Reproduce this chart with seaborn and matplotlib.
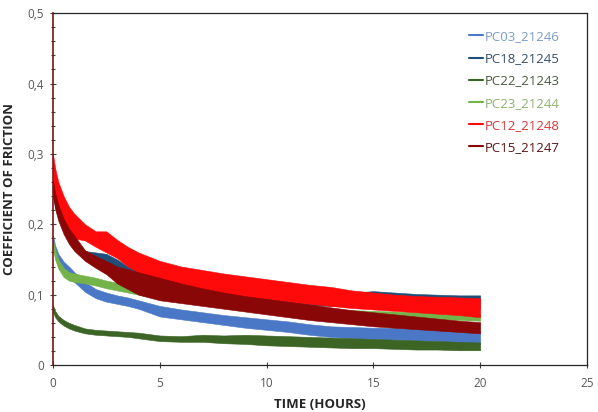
import pandas as pd
import seaborn as sns
import matplotlib.pyplot as plt
from matplotlib.lines import Line2D
from matplotlib.ticker import MultipleLocator

sns.set_theme(style='ticks')
plt.rcParams['font.family'] = ['Open Sans', 'DejaVu Sans']

# Time axis (hours) shared by every sample
hours = [0, 0.1, 0.25, 0.5, 0.75, 1, 1.5, 2, 2.5, 3, 3.5, 4, 5, 6, 7, 8, 9,
         10, 11, 12, 13, 14, 15, 16, 17, 18, 19, 20]

samples = ['PC03_21246', 'PC18_21245', 'PC22_21243', 'PC23_21244', 'PC12_21248', 'PC15_21247']
colors = ['#4a78c6', '#1f4e79', '#3b6425', '#74b24a', '#ff0a0a', '#8a0707']
label_colors = ['#7d9dcc', '#34506c', '#4b5a3e', '#8db36e', '#d7383c', '#5c1414']

# Upper / lower edge of the noisy band
pc03_hi = [0.185, 0.17, 0.158, 0.147, 0.14, 0.132, 0.118, 0.108, 0.103, 0.099, 0.096, 0.092, 0.084, 0.079,
           0.075, 0.071, 0.068, 0.065, 0.062, 0.058, 0.055, 0.054, 0.053, 0.053, 0.052, 0.051, 0.05, 0.048]
pc03_lo = [0.17, 0.155, 0.143, 0.133, 0.126, 0.118, 0.104, 0.095, 0.09, 0.087, 0.084, 0.08, 0.069, 0.065,
           0.061, 0.057, 0.053, 0.05, 0.047, 0.043, 0.04, 0.038, 0.037, 0.036, 0.035, 0.034, 0.032, 0.03]

pc18_hi = [0.255, 0.24, 0.222, 0.203, 0.19, 0.18, 0.162, 0.16, 0.158, 0.15, 0.14, 0.134, 0.126, 0.12,
           0.116, 0.112, 0.109, 0.107, 0.105, 0.104, 0.103, 0.103, 0.105, 0.103, 0.101, 0.1, 0.099, 0.099]
pc18_lo = [0.24, 0.225, 0.208, 0.19, 0.176, 0.166, 0.15, 0.142, 0.138, 0.13, 0.122, 0.116, 0.108, 0.102,
           0.098, 0.094, 0.091, 0.089, 0.087, 0.085, 0.084, 0.083, 0.083, 0.082, 0.082, 0.081, 0.081, 0.08]

pc22_hi = [0.085, 0.077, 0.07, 0.064, 0.06, 0.057, 0.052, 0.05, 0.049, 0.048, 0.047, 0.046, 0.042, 0.041,
           0.043, 0.042, 0.043, 0.042, 0.041, 0.04, 0.039, 0.038, 0.037, 0.036, 0.035, 0.034, 0.033, 0.032]
pc22_lo = [0.075, 0.068, 0.062, 0.056, 0.052, 0.049, 0.045, 0.043, 0.042, 0.041, 0.04, 0.038, 0.034, 0.033,
           0.033, 0.031, 0.03, 0.028, 0.027, 0.026, 0.025, 0.024, 0.024, 0.023, 0.022, 0.022, 0.021, 0.021]

pc23_hi = [0.178, 0.165, 0.15, 0.138, 0.132, 0.13, 0.127, 0.124, 0.12, 0.117, 0.113, 0.11, 0.104, 0.099,
           0.095, 0.091, 0.088, 0.086, 0.084, 0.082, 0.08, 0.078, 0.077, 0.076, 0.075, 0.074, 0.073, 0.072]
pc23_lo = [0.165, 0.15, 0.137, 0.125, 0.12, 0.118, 0.116, 0.113, 0.109, 0.106, 0.103, 0.1, 0.094, 0.09,
           0.086, 0.082, 0.079, 0.077, 0.075, 0.073, 0.071, 0.069, 0.068, 0.067, 0.066, 0.065, 0.064, 0.063]

pc12_hi = [0.30, 0.28, 0.26, 0.24, 0.225, 0.215, 0.2, 0.19, 0.19, 0.178, 0.168, 0.16, 0.148, 0.14,
           0.135, 0.13, 0.126, 0.122, 0.118, 0.114, 0.111, 0.106, 0.103, 0.1, 0.098, 0.097, 0.096, 0.095]
pc12_lo = [0.25, 0.24, 0.225, 0.205, 0.19, 0.18, 0.177, 0.168, 0.16, 0.152, 0.14, 0.132, 0.12, 0.113,
           0.107, 0.102, 0.097, 0.094, 0.09, 0.087, 0.084, 0.081, 0.079, 0.077, 0.075, 0.073, 0.071, 0.068]

pc15_hi = [0.262, 0.245, 0.228, 0.208, 0.194, 0.184, 0.163, 0.155, 0.148, 0.14, 0.136, 0.132, 0.124, 0.116,
           0.109, 0.103, 0.098, 0.094, 0.09, 0.086, 0.082, 0.078, 0.075, 0.072, 0.069, 0.066, 0.063, 0.061]
pc15_lo = [0.24, 0.222, 0.205, 0.186, 0.172, 0.162, 0.148, 0.138, 0.129, 0.116, 0.108, 0.1, 0.092, 0.088,
           0.084, 0.08, 0.076, 0.072, 0.068, 0.064, 0.061, 0.058, 0.055, 0.053, 0.051, 0.049, 0.047, 0.045]

x_ticks = [0, 5, 10, 15, 20, 25]
y_ticks = [0, 0.1, 0.2, 0.3, 0.4, 0.5]
y_tick_labels = ['0', '0,1', '0,2', '0,3', '0,4', '0,5']

edges = {
    'PC03_21246': (pc03_hi, pc03_lo),
    'PC18_21245': (pc18_hi, pc18_lo),
    'PC22_21243': (pc22_hi, pc22_lo),
    'PC23_21244': (pc23_hi, pc23_lo),
    'PC12_21248': (pc12_hi, pc12_lo),
    'PC15_21247': (pc15_hi, pc15_lo),
}

# Long table: two readings (band edges) per sample and time
rows = []
for name, (hi, lo) in edges.items():
    for t, a, b in zip(hours, hi, lo):
        rows.append({'Time': t, 'COF': a, 'Sample': name})
        rows.append({'Time': t, 'COF': b, 'Sample': name})
df = pd.DataFrame(rows)

fig = plt.figure(figsize=(5.98, 4.12), dpi=100)
ax = fig.add_axes([0.0886, 0.114, 0.893, 0.854])

sns.lineplot(data=df, x='Time', y='COF', hue='Sample', hue_order=samples,
             palette=colors, errorbar=('pi', 100), linewidth=0,
             err_kws={'alpha': 1, 'linewidth': 0.4}, legend=False, ax=ax)
for coll, c in zip(ax.collections, colors):
    coll.set_edgecolor(c)

ax.set_xlim(0, 25)
ax.set_ylim(0, 0.5)
ax.set_xticks(x_ticks)
ax.set_yticks(y_ticks)
ax.set_yticklabels(y_tick_labels)
ax.yaxis.set_minor_locator(MultipleLocator(0.02))
ax.tick_params(axis='both', which='major', direction='inout', length=5, width=0.8,
               labelsize=8.5, labelcolor='#595959', color='#404040', pad=4)
ax.tick_params(axis='y', which='minor', direction='inout', length=3, width=0.8, color='#404040')
ax.tick_params(axis='x', pad=6)

for side in ['top', 'right', 'bottom']:
    ax.spines[side].set_color('#262626')
    ax.spines[side].set_linewidth(0.9)
ax.spines['left'].set_color('#7a1515')
ax.spines['left'].set_linewidth(1.2)

ax.set_xlabel('TIME (HOURS)', fontsize=9.5, fontweight='bold', color='#262626', labelpad=6)
ax.set_ylabel('COEFFICIENT OF FRICTION', fontsize=9.5, fontweight='bold', color='#262626', labelpad=8)

handles = [Line2D([], [], color=c, linewidth=1.5) for c in colors]
leg = ax.legend(handles, samples, frameon=False, loc='upper left',
                bbox_to_anchor=(0.765, 0.975), fontsize=9.5, handlelength=1.0,
                handletextpad=0.15, labelspacing=0.7, borderaxespad=0.2)
for txt, c in zip(leg.get_texts(), label_colors):
    txt.set_color(c)

fig.savefig('out.png', dpi=100)
